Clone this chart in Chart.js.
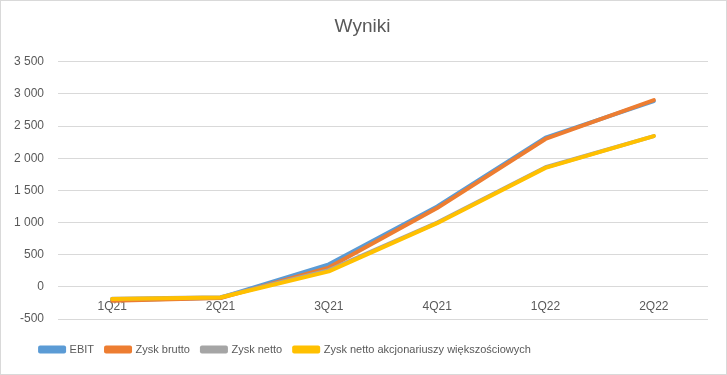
<!DOCTYPE html>
<html lang="pl">
<head>
    <meta charset="UTF-8">
    <title>Wyniki</title>
    <script src="https://cdn.jsdelivr.net/npm/chart.js"></script>
    <style>
        html, body { margin: 0; padding: 0; background: #fff; }
        #box {
            width: 727px;
            height: 375px;
            box-sizing: border-box;
            border: 1px solid #d9d9d9;
        }
    </style>
</head>
<body>
<div id="box">
    <canvas id="wynikiChart" width="725" height="373"></canvas>
</div>

<script>
    const quarters = ['1Q21', '2Q21', '3Q21', '4Q21', '1Q22', '2Q22'];
    const ebit = [-210, -170, 350, 1250, 2320, 2890];
    const zyskBrutto = [-215, -175, 300, 1225, 2300, 2905];
    const zyskNetto = [-185, -160, 260, 1000, 1860, 2345];
    const zyskAkcjonariuszy = [-190, -165, 240, 990, 1850, 2345];

    const grey = '#595959';
    const fontFamily = "'Liberation Sans', Arial, sans-serif";

    // etykiety osi Y ze spacją jako separatorem tysięcy
    const fmt = v => {
        const s = Math.abs(v).toString().replace(/\B(?=(\d{3})+(?!\d))/g, ' ');
        return (v < 0 ? '-' : '') + s;
    };

    const line = (label, data, color, order) => ({
        label: label,
        data: data,
        borderColor: color,
        backgroundColor: color,
        borderWidth: 4,
        pointRadius: 0,
        tension: 0,
        borderCapStyle: 'round',
        borderJoinStyle: 'round',
        order: order
    });

    // legenda w Excelu jest przesunięta w lewo i niżej, tytuł lekko w prawo
    const moveBoxes = {
        id: 'moveBoxes',
        afterLayout(chart) {
            const l = chart.legend;
            l.left -= 69; l.right -= 69;
            l.top += 13; l.bottom += 13;
            const t = chart.titleBlock;
            if (t) { t.left += 8; t.right += 8; }
        }
    };

    const ctx = document.getElementById('wynikiChart').getContext('2d');
    new Chart(ctx, {
        type: 'line',
        data: {
            labels: quarters,
            datasets: [
                line('EBIT', ebit, '#5b9bd5', 4),
                line('Zysk brutto', zyskBrutto, '#ed7d31', 3),
                line('Zysk netto', zyskNetto, '#a5a5a5', 2),
                line('Zysk netto akcjonariuszy większościowych', zyskAkcjonariuszy, '#ffc000', 1)
            ]
        },
        plugins: [moveBoxes],
        options: {
            responsive: false,
            animation: false,
            layout: { padding: { left: 0, right: 18, top: 0, bottom: 22 } },
            plugins: {
                title: {
                    display: true,
                    text: 'Wyniki',
                    color: grey,
                    font: { family: fontFamily, size: 19, weight: 'normal' },
                    padding: { top: 14, bottom: 24 }
                },
                legend: {
                    position: 'bottom',
                    labels: {
                        color: grey,
                        font: { family: fontFamily, size: 11 },
                        boxWidth: 24,
                        boxHeight: 4,
                        padding: 12,
                        sort: (a, b) => a.datasetIndex - b.datasetIndex
                    }
                },
                tooltip: { enabled: false }
            },
            scales: {
                x: {
                    position: { y: 0 },
                    offset: true,
                    grid: { display: false },
                    border: { display: false },
                    ticks: {
                        color: grey,
                        font: { family: fontFamily, size: 12 },
                        padding: 5
                    }
                },
                y: {
                    min: -500,
                    max: 3500,
                    afterFit: scale => { scale.width = 57; },
                    grid: { color: '#d9d9d9', lineWidth: 1, drawTicks: false },
                    border: { display: false },
                    ticks: {
                        stepSize: 500,
                        color: grey,
                        font: { family: fontFamily, size: 12 },
                        padding: 14,
                        callback: v => fmt(v)
                    }
                }
            }
        }
    });
</script>
</body>
</html>
